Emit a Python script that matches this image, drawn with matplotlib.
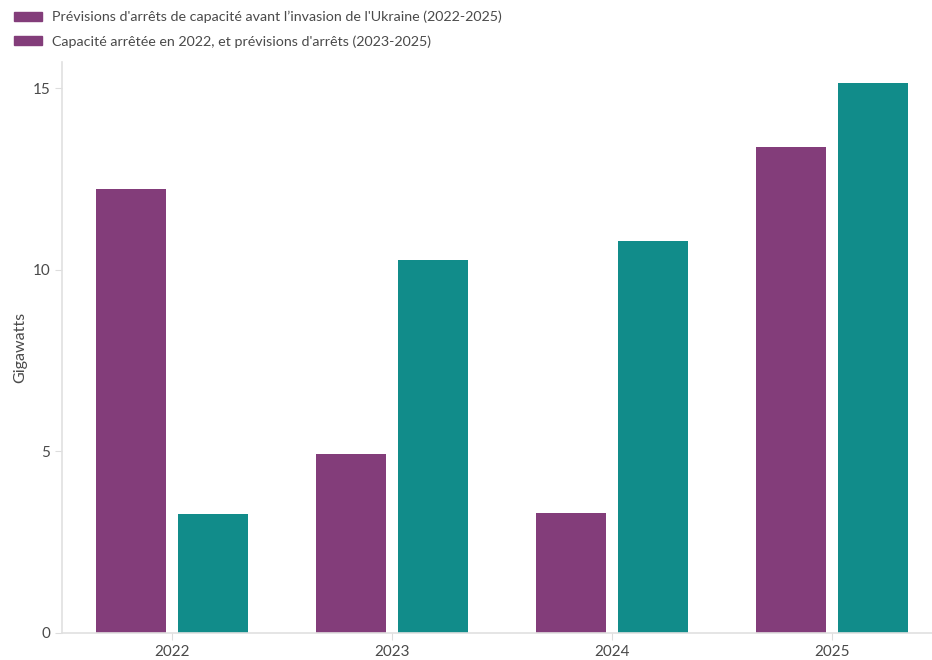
import numpy as np
import matplotlib
matplotlib.use('Agg')
import matplotlib.pyplot as plt
from matplotlib.patches import Patch

plt.rcParams['font.family'] = ['Lato', 'DejaVu Sans']

annees = ['2022', '2023', '2024', '2025']
avant_invasion = [12.22, 4.93, 3.30, 13.38]
arretee_prevue = [3.28, 10.27, 10.79, 15.14]
labels = ["Prévisions d'arrêts de capacité avant l’invasion de l'Ukraine (2022-2025)",
          "Capacité arrêtée en 2022, et prévisions d'arrêts (2023-2025)"]

violet = '#833d7a'
sarcelle = '#118c8a'
gris = '#4a4a4a'

fig = plt.figure(figsize=(9.32, 6.6), dpi=100)
ax = fig.add_axes([62/932, 27/660, 870/932, 571/660])

x = np.arange(len(annees))
w = 0.318
ax.bar(x - 0.188, avant_invasion, w, color=violet, label=labels[0])
ax.bar(x + 0.188, arretee_prevue, w, color=sarcelle, label=labels[1])

ax.set_xlim(-0.5, 3.455)
ax.set_ylim(0, 15.72)
ax.set_xticks(x)
ax.set_xticklabels(annees)
ax.set_yticks([0, 5, 10, 15])
ax.set_ylabel('Gigawatts', fontsize=11.5, color=gris, labelpad=4)
ax.tick_params(colors=gris, labelsize=11, length=5, width=0.8)
ax.tick_params(axis='both', color='#dddddd')

for s in ['top', 'right']:
    ax.spines[s].set_visible(False)
for s in ['left', 'bottom']:
    ax.spines[s].set_color('#e0e0e0')
    ax.spines[s].set_linewidth(1.2)

# les deux carrés de légende sont violets dans l'original
handles = [Patch(color=violet), Patch(color=violet)]
fig.legend(handles, labels, loc='upper left', bbox_to_anchor=(0.003, 1.0),
           frameon=False, fontsize=10.3, labelcolor=gris,
           handlelength=2.0, handleheight=0.6, handletextpad=0.7,
           labelspacing=0.85, borderaxespad=0.35)

fig.savefig('out.png', dpi=100)
